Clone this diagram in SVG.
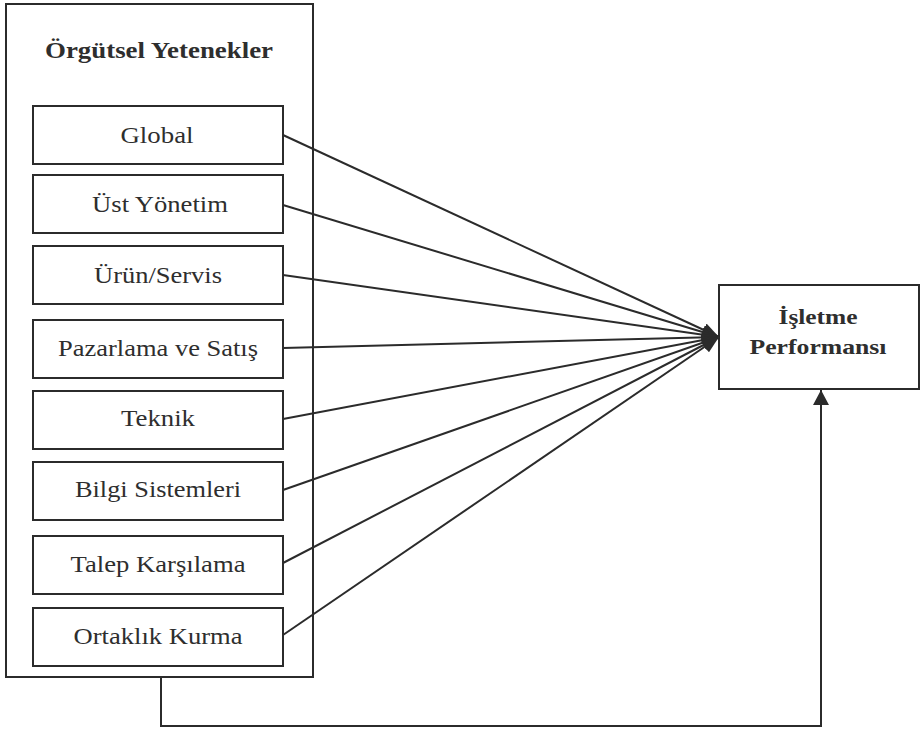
<svg xmlns="http://www.w3.org/2000/svg" width="922" height="729" viewBox="0 0 922 729">
<style>
.box{fill:#fff;stroke:#2b2b2b;stroke-width:2}
text{font-family:'Liberation Serif',Tinos,'Times New Roman',Times,serif;fill:#2e2e2e;text-anchor:middle}
.c{fill:none;stroke:#2b2b2b;stroke-width:2}
</style>
<defs>
<marker id="ah" viewBox="0 0 17 14" refX="17" refY="7" markerWidth="17" markerHeight="14" markerUnits="userSpaceOnUse" orient="auto">
<path d="M0,0 L17,7 L0,14 z" fill="#2b2b2b"/>
</marker>
<marker id="ahUp" viewBox="0 0 15 16" refX="15" refY="8" markerWidth="15" markerHeight="16" markerUnits="userSpaceOnUse" orient="auto">
<path d="M0,0 L15,8 L0,16 z" fill="#2b2b2b"/>
</marker>
</defs>
<rect width="922" height="729" fill="#fff"/>
<g id="orgutsel-yetenekler">
<rect class="box" x="6" y="4" width="307" height="673"/>
<text x="159" y="58" font-family="Liberation Serif, serif" font-size="24" font-weight="bold" textLength="228" lengthAdjust="spacingAndGlyphs">Örgütsel Yetenekler</text>
</g>
<g id="global"><rect class="box" x="33" y="106" width="250" height="58"/><text x="157" y="143" font-family="Liberation Serif, serif" font-size="24" textLength="73" lengthAdjust="spacingAndGlyphs">Global</text></g>
<g id="ust-yonetim"><rect class="box" x="33" y="175" width="250" height="58"/><text x="160" y="212" font-family="Liberation Serif, serif" font-size="24" textLength="136" lengthAdjust="spacingAndGlyphs">Üst Yönetim</text></g>
<g id="urun-servis"><rect class="box" x="33" y="246" width="250" height="58"/><text x="158" y="283" font-family="Liberation Serif, serif" font-size="24" textLength="128" lengthAdjust="spacingAndGlyphs">Ürün/Servis</text></g>
<g id="pazarlama"><rect class="box" x="33" y="320" width="250" height="58"/><text x="158" y="356" font-family="Liberation Serif, serif" font-size="24" textLength="200" lengthAdjust="spacingAndGlyphs">Pazarlama ve Satış</text></g>
<g id="teknik"><rect class="box" x="33" y="391" width="250" height="58"/><text x="158" y="426" font-family="Liberation Serif, serif" font-size="24" textLength="74" lengthAdjust="spacingAndGlyphs">Teknik</text></g>
<g id="bilgi-sistemleri"><rect class="box" x="33" y="462" width="250" height="58"/><text x="158" y="497" font-family="Liberation Serif, serif" font-size="24" textLength="166" lengthAdjust="spacingAndGlyphs">Bilgi Sistemleri</text></g>
<g id="talep-karsilama"><rect class="box" x="33" y="536" width="250" height="58"/><text x="158" y="572" font-family="Liberation Serif, serif" font-size="24" textLength="175" lengthAdjust="spacingAndGlyphs">Talep Karşılama</text></g>
<g id="ortaklik-kurma"><rect class="box" x="33" y="608" width="250" height="58"/><text x="158" y="644" font-family="Liberation Serif, serif" font-size="24" textLength="169" lengthAdjust="spacingAndGlyphs">Ortaklık Kurma</text></g>
<g id="isletme-performansi">
<rect class="box" x="719" y="285" width="200" height="104"/>
<text x="818" y="324" font-family="Liberation Serif, serif" font-size="22" font-weight="bold" textLength="79" lengthAdjust="spacingAndGlyphs">İşletme</text>
<text x="818" y="354" font-family="Liberation Serif, serif" font-size="22" font-weight="bold" textLength="137" lengthAdjust="spacingAndGlyphs">Performansı</text>
</g>
<g id="connectors">
<line class="c" x1="283" y1="135" x2="719" y2="337" marker-end="url(#ah)"/>
<line class="c" x1="283" y1="205" x2="719" y2="337" marker-end="url(#ah)"/>
<line class="c" x1="283" y1="275" x2="719" y2="337" marker-end="url(#ah)"/>
<line class="c" x1="283" y1="348" x2="719" y2="337" marker-end="url(#ah)"/>
<line class="c" x1="283" y1="419" x2="719" y2="337" marker-end="url(#ah)"/>
<line class="c" x1="283" y1="490" x2="719" y2="337" marker-end="url(#ah)"/>
<line class="c" x1="283" y1="563" x2="719" y2="337" marker-end="url(#ah)"/>
<line class="c" x1="283" y1="635" x2="719" y2="337" marker-end="url(#ah)"/>
<path class="c" d="M161,677 L161,726 L821,726 L821,390" marker-end="url(#ahUp)"/>
</g>
</svg>
